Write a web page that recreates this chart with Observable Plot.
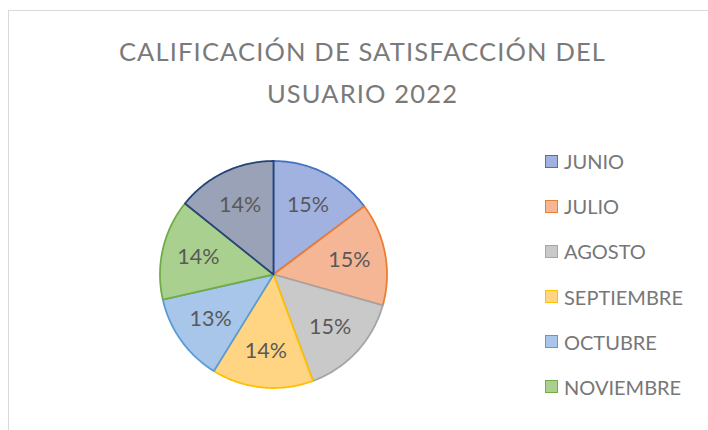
<!DOCTYPE html>
<html>
<head>
<meta charset="utf-8">
<script src="https://cdn.jsdelivr.net/npm/d3@7"></script>
<script src="https://cdn.jsdelivr.net/npm/@observablehq/plot@0.6"></script>
<style>
  html, body { margin: 0; padding: 0; background: #fff; }
  #wrap { position: relative; width: 708px; height: 430px; overflow: hidden; background: #fff; font-family: Lato, "Open Sans", sans-serif; }
  #frame { position: absolute; left: 8px; top: 10px; width: 800px; height: 500px; border-left: 1.5px solid #d9d9d9; border-top: 1.5px solid #d9d9d9; }
  #title { position: absolute; left: 0; width: 725px; top: 30px; text-align: center; font-size: 25.5px; letter-spacing: 1.15px; line-height: 42px; color: #7a7a7a; font-weight: 400; }
  #pie { position: absolute; left: 152.5px; top: 153.5px; }
  #legend { position: absolute; left: 545px; top: 150px; }
  .item { display: flex; align-items: center; height: 22px; margin-bottom: 23.2px; font-size: 20px; color: #777777; }
  .sw { width: 11px; height: 11px; border: 1.6px solid; margin-right: 6px; }
</style>
</head>
<body>
<div id="wrap">
  <div id="frame"></div>
  <div id="title">CALIFICACIÓN DE SATISFACCIÓN DEL<br>USUARIO 2022</div>
  <div id="pie"></div>
  <div id="legend"></div>
</div>
<script>
const months = ["JUNIO", "JULIO", "AGOSTO", "SEPTIEMBRE", "OCTUBRE", "NOVIEMBRE", "DICIEMBRE"];
const values = [14.75, 14.65, 14.95, 14.45, 12.66, 14.3, 14.24];
const fillColors = ["#a2b2e0", "#f5b696", "#c9c9c9", "#ffd583", "#a7c6ea", "#a9d08f", "#9aa2b7"];
const strokeColors = ["#4472c4", "#ed7d31", "#a5a5a5", "#ffc000", "#5b9bd5", "#70ad47", "#264478"];
const legendShown = 6;

const data = months.map((m, i) => ({month: m, value: values[i], fill: fillColors[i], stroke: strokeColors[i]}));
const total = d3.sum(values);
const arcs = d3.pie().sort(null).value(d => d.value)(data);

// polygon points of each slice (unit circle, clockwise from 12 o'clock)
const pts = [];
arcs.forEach(a => {
  const d = a.data;
  pts.push({month: d.month, fill: d.fill, stroke: d.stroke, x: 0, y: 0});
  const n = 80;
  for (let k = 0; k <= n; k++) {
    const t = a.startAngle + (a.endAngle - a.startAngle) * k / n;
    pts.push({month: d.month, fill: d.fill, stroke: d.stroke, x: Math.sin(t), y: Math.cos(t)});
  }
  pts.push({month: d.month, fill: d.fill, stroke: d.stroke, x: 0, y: 0});
});

const labelR = 0.68;
const labels = arcs.map(a => {
  const m = (a.startAngle + a.endAngle) / 2;
  return {x: Math.sin(m) * labelR, y: Math.cos(m) * labelR, text: Math.round(a.data.value / total * 100) + "%"};
});

const R = 120 / 113.5;
const chart = Plot.plot({
  width: 240, height: 240, margin: 0,
  x: {domain: [-R, R], axis: null},
  y: {domain: [-R, R], axis: null},
  style: {background: "transparent", overflow: "visible"},
  marks: [
    Plot.line(pts, {x: "x", y: "y", z: "month", fill: "fill", stroke: "stroke", strokeWidth: 1.8, strokeLinejoin: "round", curve: "linear"}),
    Plot.text(labels, {x: "x", y: "y", text: "text", fontSize: 21.5, fill: "#595959", fontFamily: "Lato, sans-serif"})
  ]
});
document.getElementById("pie").appendChild(chart);

const leg = document.getElementById("legend");
data.slice(0, legendShown).forEach(d => {
  const it = document.createElement("div");
  it.className = "item";
  const sw = document.createElement("span");
  sw.className = "sw";
  sw.style.background = d.fill;
  sw.style.borderColor = d.stroke;
  const tx = document.createElement("span");
  tx.textContent = d.month;
  it.appendChild(sw); it.appendChild(tx);
  leg.appendChild(it);
});
</script>
</body>
</html>
